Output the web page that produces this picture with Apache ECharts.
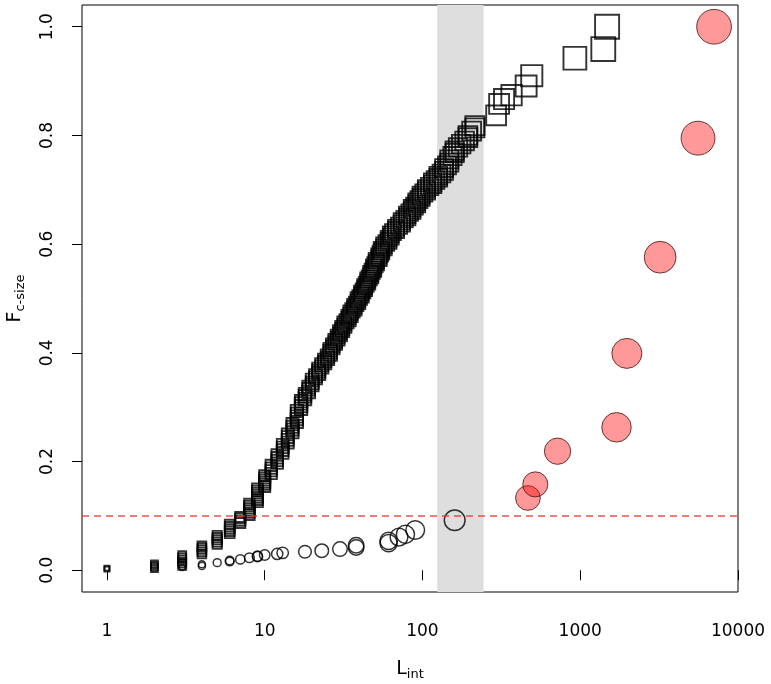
<!DOCTYPE html>
<html>
<head>
<meta charset="utf-8">
<script src="https://cdn.jsdelivr.net/npm/echarts@6/dist/echarts.min.js"></script>
<style>
  html, body { margin: 0; padding: 0; background: #fff; }
  #chart { width: 771px; height: 684px; }
</style>
</head>
<body>
<div id="chart"></div>
<script>
// axis ticks
const xTicks = [1, 10, 100, 1000, 10000];
const yTicks = [0, 0.2, 0.4, 0.6, 0.8, 1.0];
// shaded L_int range and threshold line
const band = [124, 244];
const threshold = 0.1;

// open squares [L_int, F]
const squares = [
  [1, 0.002], [1, 0.004],
  [2, 0.003], [2, 0.006], [2, 0.009], [2, 0.012],
  [3, 0.008], [3, 0.012], [3, 0.016], [3, 0.020], [3, 0.024], [3, 0.028],
  [4, 0.030], [4, 0.034], [4, 0.038], [4, 0.042], [4, 0.045],
  [5, 0.048], [5, 0.052], [5, 0.056], [5, 0.060], [5, 0.064],
  [6, 0.068], [6, 0.072], [6, 0.076], [6, 0.080], [6, 0.084],
  [7, 0.087], [7, 0.091], [7, 0.095], [7, 0.098],
  [8, 0.102], [8, 0.106], [8, 0.110], [8, 0.114], [8, 0.118], [8, 0.122],
  [9, 0.126], [9, 0.130], [9, 0.134], [9, 0.138], [9, 0.142], [9, 0.146], [9, 0.150],
  [10, 0.154], [10, 0.158], [10, 0.162], [10, 0.166], [10, 0.170], [10, 0.174],
  [11, 0.178], [11, 0.183], [11, 0.188], [11, 0.193],
  [12, 0.197], [12, 0.202], [12, 0.207], [12, 0.212],
  [13, 0.216], [13, 0.221], [13, 0.226], [13, 0.231],
  [14, 0.235], [14, 0.240], [14, 0.245], [14, 0.250],
  [15, 0.254], [15, 0.259], [15, 0.264], [15, 0.269],
  [16, 0.273], [16, 0.278], [16, 0.283], [16, 0.288], [16, 0.293],
  [17, 0.297], [17, 0.302], [17, 0.307], [17, 0.311],
  [18, 0.315], [18, 0.320], [18, 0.324],
  [19, 0.328], [19, 0.333], [19, 0.337],
  [20, 0.341], [20, 0.345], [20, 0.350],
  [21, 0.354], [21, 0.358],
  [22, 0.362], [22, 0.366], [22, 0.370],
  [23, 0.374], [23, 0.378],
  [24, 0.382], [24, 0.386],
  [25, 0.390], [25, 0.394],
  [26, 0.398], [26, 0.402], [26, 0.406],
  [27, 0.410], [27, 0.414],
  [28, 0.418], [28, 0.422],
  [29, 0.426], [29, 0.430],
  [30, 0.434], [30, 0.438],
  [31, 0.442], [31, 0.446],
  [32, 0.450], [32, 0.454],
  [33, 0.458],
  [34, 0.462], [34, 0.466],
  [35, 0.470], [35, 0.474],
  [36, 0.478],
  [37, 0.482], [37, 0.486],
  [38, 0.490],
  [39, 0.494], [39, 0.498],
  [40, 0.502],
  [41, 0.506], [41, 0.510],
  [42, 0.514],
  [43, 0.518], [43, 0.522],
  [44, 0.526],
  [45, 0.530], [45, 0.534],
  [46, 0.538],
  [47, 0.542], [47, 0.546],
  [48, 0.550],
  [49, 0.554], [49, 0.558],
  [50, 0.562],
  [51, 0.566], [51, 0.570],
  [53, 0.574], [53, 0.578],
  [54, 0.582],
  [55, 0.586], [55, 0.590],
  [57, 0.594], [57, 0.598],
  [59, 0.602],
  [61, 0.606], [61, 0.610],
  [63, 0.614], [63, 0.618],
  [65, 0.622],
  [68, 0.626], [68, 0.630],
  [71, 0.634],
  [74, 0.638], [74, 0.642],
  [77, 0.646],
  [80, 0.650], [80, 0.654],
  [83, 0.658],
  [86, 0.662], [86, 0.666],
  [89, 0.670],
  [92, 0.674], [92, 0.678],
  [95, 0.682],
  [98, 0.686], [98, 0.690],
  [102, 0.694],
  [106, 0.698], [106, 0.702],
  [111, 0.706],
  [116, 0.710], [116, 0.714],
  [121, 0.718],
  [126, 0.722], [126, 0.726],
  [132, 0.730],
  [137, 0.735], [137, 0.740],
  [143, 0.745],
  [148, 0.750], [148, 0.756],
  [155, 0.762],
  [160, 0.768], [160, 0.772],
  [168, 0.778],
  [176, 0.784],
  [185, 0.790],
  [194, 0.796], [194, 0.800],
  [205, 0.808],
  [215, 0.814], [215, 0.818],
  [293, 0.837],
  [306, 0.858],
  [329, 0.867],
  [367, 0.874],
  [454, 0.891],
  [493, 0.910],
  [925, 0.942],
  [1400, 0.959],
  [1480, 1.0]
];

// open circles [L_int, F]
const circles = [
  [3, 0.005], [4, 0.008], [4, 0.011], [5, 0.014], [6, 0.016], [6, 0.018],
  [7, 0.020], [8, 0.023], [9, 0.025], [9, 0.026], [10, 0.028], [12, 0.030],
  [13, 0.032], [18, 0.034], [23, 0.036], [30, 0.039], [38, 0.042], [38, 0.046],
  [61, 0.050], [61, 0.054], [71, 0.061], [78, 0.066], [90, 0.074], [160, 0.092]
];

// filled red circles [L_int, F]
const redCircles = [
  [466, 0.133], [519, 0.158], [718, 0.219], [1698, 0.263],
  [1975, 0.399], [3210, 0.576], [5580, 0.795], [7050, 1.0]
];

const chart = echarts.init(document.getElementById('chart'));
const font = 'DejaVu Sans';

const option = {
  animation: false,
  grid: {
    left: 82, right: 33, top: 5, bottom: 92,
    containLabel: false,
    outerBoundsMode: 'none',
    show: true, borderColor: '#000', borderWidth: 1
  },
  xAxis: {
    type: 'log',
    logBase: 10,
    min: 0.695,
    max: 10000,
    axisLine: { show: false },
    splitLine: { show: false },
    axisTick: { customValues: xTicks, length: 10, lineStyle: { color: '#000' } },
    axisLabel: {
      customValues: xTicks, color: '#000', fontFamily: font, fontSize: 17, margin: 31,
      formatter: v => String(v)
    },
    name: '{a|L}{b|int}',
    nameLocation: 'middle',
    nameGap: 66,
    nameTextStyle: {
      rich: {
        a: { fontFamily: font, fontSize: 19, color: '#000', lineHeight: 22 },
        b: { fontFamily: font, fontSize: 13, color: '#000', lineHeight: 14, padding: [12, 0, 0, 0] }
      }
    }
  },
  yAxis: {
    type: 'value',
    min: -0.04,
    max: 1.04,
    axisLine: { show: false },
    splitLine: { show: false },
    axisTick: { customValues: yTicks, length: 10, lineStyle: { color: '#000' } },
    axisLabel: {
      customValues: yTicks, rotate: 90, color: '#000', fontFamily: font, fontSize: 17, margin: 26,
      formatter: v => v.toFixed(1)
    },
    name: '{a|F}{b|c-size}',
    nameLocation: 'middle',
    nameRotate: 90,
    nameGap: 56,
    nameTextStyle: {
      rich: {
        a: { fontFamily: font, fontSize: 19, color: '#000', lineHeight: 22 },
        b: { fontFamily: font, fontSize: 13, color: '#000', lineHeight: 14, padding: [12, 0, 0, 0] }
      }
    }
  },
  series: [
    {
      type: 'scatter',
      name: 'squares',
      symbol: 'rect',
      symbolSize: v => 5 + 6 * Math.log10(v[0]),
      itemStyle: { color: 'rgba(0,0,0,0)', borderColor: '#000', borderWidth: 1.9 },
      data: squares,
      markArea: {
        silent: true,
        itemStyle: { color: '#dedede' },
        data: [[{ xAxis: band[0] }, { xAxis: band[1] }]]
      },
      markLine: {
        silent: true,
        symbol: 'none',
        label: { show: false },
        lineStyle: { color: 'rgba(235,50,50,0.85)', type: [7, 5], width: 1.5 },
        data: [{ yAxis: threshold }]
      }
    },
    {
      type: 'scatter',
      name: 'circles',
      symbol: 'circle',
      symbolSize: v => 2 + 8.5 * Math.log10(v[0]),
      itemStyle: { color: 'rgba(0,0,0,0)', borderColor: '#000', borderWidth: 1.5 },
      data: circles
    },
    {
      type: 'scatter',
      name: 'red',
      symbol: 'circle',
      symbolSize: v => 2 + 8.5 * Math.log10(v[0]),
      itemStyle: { color: 'rgba(255,0,0,0.5)', borderColor: '#4a0c0c', borderWidth: 1 },
      data: redCircles,
      z: 3
    }
  ]
};

chart.setOption(option);
window.addEventListener('resize', function () {
  chart.resize();
});
</script>
</body>
</html>
